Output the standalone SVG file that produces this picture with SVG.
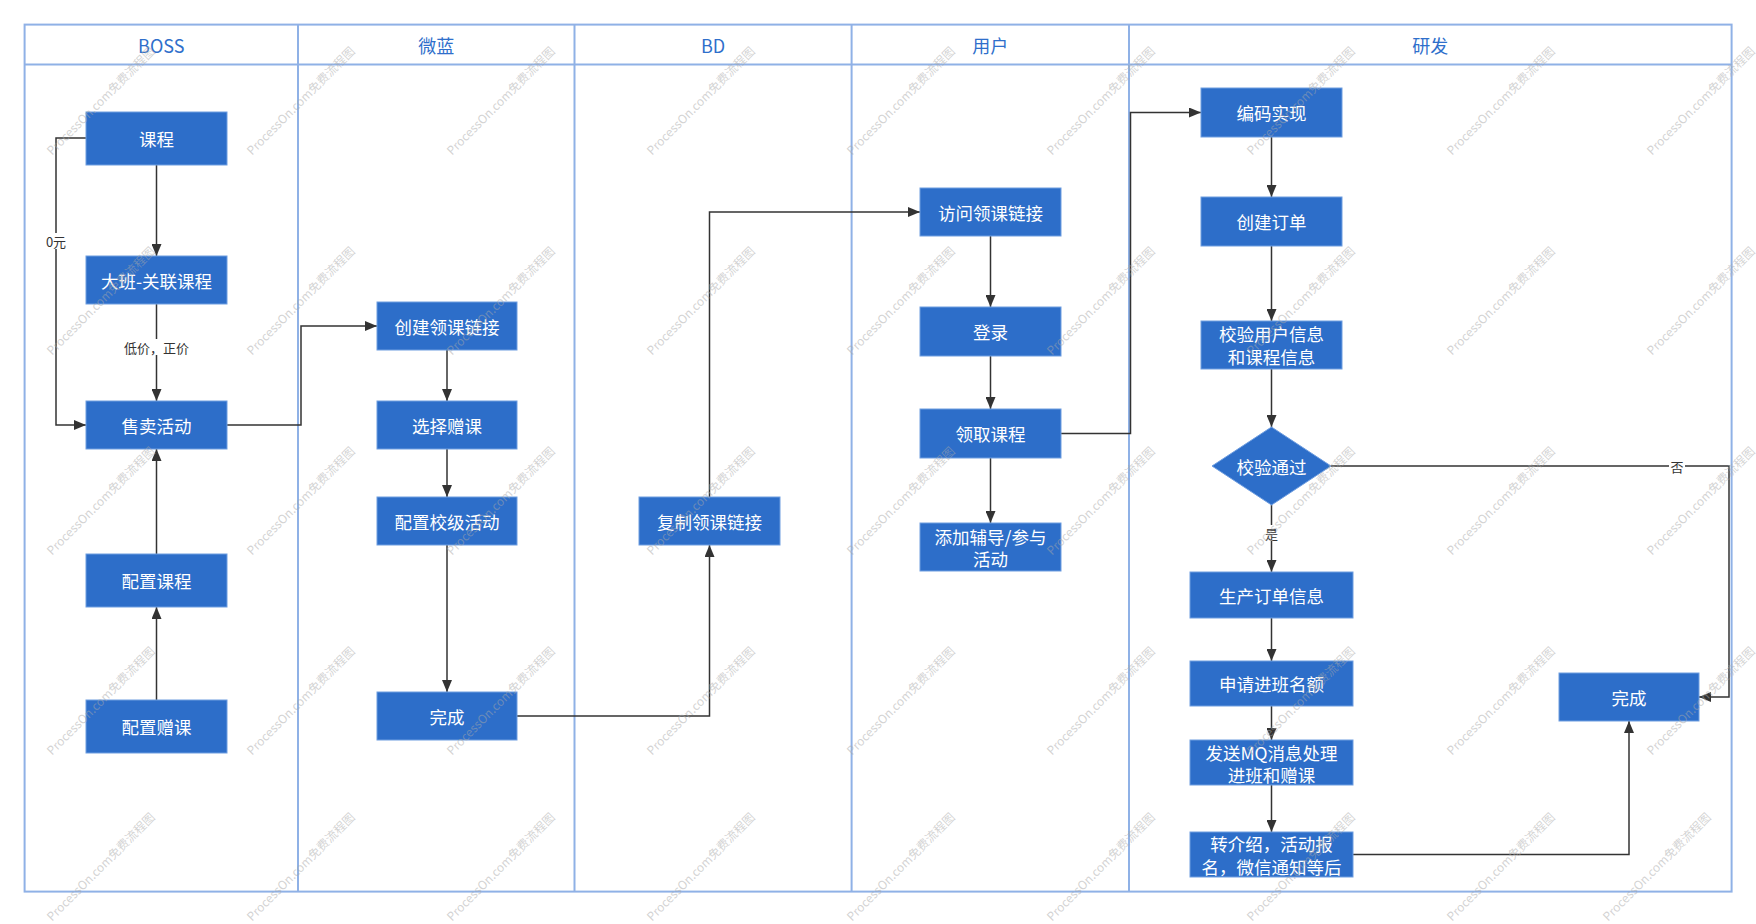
<svg xmlns="http://www.w3.org/2000/svg" width="1756" height="924" viewBox="0 0 1756 924">
<style>
.lane{fill:none;stroke:#8fb1e6;stroke-width:2}
.hd{font-family:"Noto Sans CJK SC","Noto Sans",sans-serif;font-size:18px;fill:#2f6fcb;text-anchor:middle;dominant-baseline:central}
.nd{fill:#2d6ec9;stroke:#6f9ee0;stroke-width:1}
.nt{font-family:"Noto Sans CJK SC","Noto Sans",sans-serif;font-size:17.5px;fill:#ffffff;text-anchor:middle;dominant-baseline:central}
.ln{fill:none;stroke:#333333;stroke-width:1.5}
.lb{font-family:"Noto Sans CJK SC","Noto Sans",sans-serif;font-size:13px;fill:#333333;text-anchor:middle;dominant-baseline:central}
.lbg{fill:#ffffff}
.wm{font-family:"Noto Sans CJK SC","Noto Sans",sans-serif;font-size:12px;fill:#a8a8a8;fill-opacity:0.5;text-anchor:middle;dominant-baseline:central}
</style>
<defs>
<marker id="arr" markerUnits="userSpaceOnUse" markerWidth="12" markerHeight="10" refX="12" refY="5" orient="auto">
<path d="M0,0 L12,5 L0,10 z" fill="#333333"/>
</marker>
</defs>
<rect width="1756" height="924" fill="#ffffff"/>

<g id="swimlanes">
<rect class="lane" x="24.6" y="24.6" width="1707" height="867"/>
<line class="lane" x1="24.6" y1="64.5" x2="1731.6" y2="64.5"/>
<line class="lane" x1="298" y1="24.6" x2="298" y2="891.6"/>
<line class="lane" x1="574.5" y1="24.6" x2="574.5" y2="891.6"/>
<line class="lane" x1="851.6" y1="24.6" x2="851.6" y2="891.6"/>
<line class="lane" x1="1129" y1="24.6" x2="1129" y2="891.6"/>
<text class="hd" x="161.3" y="45">BOSS</text>
<text class="hd" x="436.3" y="45">微蓝</text>
<text class="hd" x="713" y="45">BD</text>
<text class="hd" x="990.3" y="45">用户</text>
<text class="hd" x="1430.3" y="45">研发</text>
</g>

<g id="connectors">
<path class="ln" d="M156.5,165 V256" marker-end="url(#arr)"/>
<path class="ln" d="M86,138 H56 V425 H86" marker-end="url(#arr)"/>
<path class="ln" d="M156.5,304 V401" marker-end="url(#arr)"/>
<path class="ln" d="M156.5,554 V449" marker-end="url(#arr)"/>
<path class="ln" d="M156.5,700 V607" marker-end="url(#arr)"/>
<path class="ln" d="M227,425 H301 V326 H377" marker-end="url(#arr)"/>
<path class="ln" d="M447,350 V401" marker-end="url(#arr)"/>
<path class="ln" d="M447,449 V497" marker-end="url(#arr)"/>
<path class="ln" d="M447,545 V692" marker-end="url(#arr)"/>
<path class="ln" d="M517,716 H709.5 V545" marker-end="url(#arr)"/>
<path class="ln" d="M709.5,497 V212 H920" marker-end="url(#arr)"/>
<path class="ln" d="M990.5,236 V307" marker-end="url(#arr)"/>
<path class="ln" d="M990.5,356 V409" marker-end="url(#arr)"/>
<path class="ln" d="M990.5,458 V523" marker-end="url(#arr)"/>
<path class="ln" d="M1061,433.5 H1130.5 V112.5 H1201" marker-end="url(#arr)"/>
<path class="ln" d="M1271.5,137 V197" marker-end="url(#arr)"/>
<path class="ln" d="M1271.5,246 V321" marker-end="url(#arr)"/>
<path class="ln" d="M1271.5,369 V427" marker-end="url(#arr)"/>
<path class="ln" d="M1271.5,505 V572" marker-end="url(#arr)"/>
<path class="ln" d="M1331,466 H1729 V697 H1699" marker-end="url(#arr)"/>
<path class="ln" d="M1271.5,618 V661" marker-end="url(#arr)"/>
<path class="ln" d="M1271.5,706 V740" marker-end="url(#arr)"/>
<path class="ln" d="M1271.5,785 V832" marker-end="url(#arr)"/>
<path class="ln" d="M1353,854.5 H1629 V721" marker-end="url(#arr)"/>
<rect class="lbg" x="44" y="233" width="24" height="16"/>
<text class="lb" x="56" y="241">0元</text>
<rect class="lbg" x="122" y="339" width="69" height="16"/>
<text class="lb" x="156.5" y="347">低价，正价</text>
<rect class="lbg" x="1264" y="525" width="15" height="16"/>
<text class="lb" x="1271.5" y="533">是</text>
<rect class="lbg" x="1669" y="458" width="16" height="16"/>
<text class="lb" x="1677" y="466">否</text>
</g>

<g id="n-kecheng"><rect class="nd" x="86" y="112" width="141" height="53"/><text class="nt" x="156.5" y="138.5">课程</text></g>
<g id="n-daban"><rect class="nd" x="86" y="256" width="141" height="48"/><text class="nt" x="156.5" y="280">大班-关联课程</text></g>
<g id="n-shoumai"><rect class="nd" x="86" y="401" width="141" height="48"/><text class="nt" x="156.5" y="425">售卖活动</text></g>
<g id="n-peizhikecheng"><rect class="nd" x="86" y="554" width="141" height="53"/><text class="nt" x="156.5" y="580.5">配置课程</text></g>
<g id="n-peizhizengke"><rect class="nd" x="86" y="700" width="141" height="53"/><text class="nt" x="156.5" y="726.5">配置赠课</text></g>

<g id="n-chuangjianlianjie"><rect class="nd" x="377" y="302" width="140" height="48"/><text class="nt" x="447" y="326">创建领课链接</text></g>
<g id="n-xuanze"><rect class="nd" x="377" y="401" width="140" height="48"/><text class="nt" x="447" y="425">选择赠课</text></g>
<g id="n-xiaoji"><rect class="nd" x="377" y="497" width="140" height="48"/><text class="nt" x="447" y="521">配置校级活动</text></g>
<g id="n-wancheng1"><rect class="nd" x="377" y="692" width="140" height="48"/><text class="nt" x="447" y="716">完成</text></g>

<g id="n-fuzhi"><rect class="nd" x="639" y="497" width="141" height="48"/><text class="nt" x="709.5" y="521">复制领课链接</text></g>

<g id="n-fangwen"><rect class="nd" x="920" y="188" width="141" height="48"/><text class="nt" x="990.5" y="212">访问领课链接</text></g>
<g id="n-denglu"><rect class="nd" x="920" y="307" width="141" height="49"/><text class="nt" x="990.5" y="331.5">登录</text></g>
<g id="n-lingqu"><rect class="nd" x="920" y="409" width="141" height="49"/><text class="nt" x="990.5" y="433.5">领取课程</text></g>
<g id="n-tianjia"><rect class="nd" x="920" y="523" width="141" height="48"/><text class="nt" x="990.5" y="536.5">添加辅导/参与</text><text class="nt" x="990.5" y="558.5">活动</text></g>

<g id="n-bianma"><rect class="nd" x="1201" y="88" width="141" height="49"/><text class="nt" x="1271.5" y="112.5">编码实现</text></g>
<g id="n-dingdan"><rect class="nd" x="1201" y="197" width="141" height="49"/><text class="nt" x="1271.5" y="221.5">创建订单</text></g>
<g id="n-jiaoyanxinxi"><rect class="nd" x="1201" y="321" width="141" height="48"/><text class="nt" x="1271.5" y="333.5">校验用户信息</text><text class="nt" x="1271.5" y="356.5">和课程信息</text></g>
<g id="n-jiaoyantongguo"><polygon class="nd" points="1271.5,427 1331,466 1271.5,505 1212,466"/><text class="nt" x="1271.5" y="466">校验通过</text></g>
<g id="n-shengchan"><rect class="nd" x="1190" y="572" width="163" height="46"/><text class="nt" x="1271.5" y="595">生产订单信息</text></g>
<g id="n-shenqing"><rect class="nd" x="1190" y="661" width="163" height="45"/><text class="nt" x="1271.5" y="683.5">申请进班名额</text></g>
<g id="n-fasong"><rect class="nd" x="1190" y="740" width="163" height="45"/><text class="nt" x="1271.5" y="752.5">发送MQ消息处理</text><text class="nt" x="1271.5" y="774">进班和赠课</text></g>
<g id="n-zhuanjieshao"><rect class="nd" x="1190" y="832" width="163" height="45"/><text class="nt" x="1271.5" y="843.5">转介绍，活动报</text><text class="nt" x="1271.5" y="866">名，微信通知等后</text></g>
<g id="n-wancheng2"><rect class="nd" x="1559" y="673" width="140" height="48"/><text class="nt" x="1629" y="697">完成</text></g>

<g id="watermarks">
<text class="wm" transform="translate(100,100) rotate(-45)">ProcessOn.com免费流程图</text>
<text class="wm" transform="translate(300,100) rotate(-45)">ProcessOn.com免费流程图</text>
<text class="wm" transform="translate(500,100) rotate(-45)">ProcessOn.com免费流程图</text>
<text class="wm" transform="translate(700,100) rotate(-45)">ProcessOn.com免费流程图</text>
<text class="wm" transform="translate(900,100) rotate(-45)">ProcessOn.com免费流程图</text>
<text class="wm" transform="translate(1100,100) rotate(-45)">ProcessOn.com免费流程图</text>
<text class="wm" transform="translate(1300,100) rotate(-45)">ProcessOn.com免费流程图</text>
<text class="wm" transform="translate(1500,100) rotate(-45)">ProcessOn.com免费流程图</text>
<text class="wm" transform="translate(1700,100) rotate(-45)">ProcessOn.com免费流程图</text>
<text class="wm" transform="translate(100,300) rotate(-45)">ProcessOn.com免费流程图</text>
<text class="wm" transform="translate(300,300) rotate(-45)">ProcessOn.com免费流程图</text>
<text class="wm" transform="translate(500,300) rotate(-45)">ProcessOn.com免费流程图</text>
<text class="wm" transform="translate(700,300) rotate(-45)">ProcessOn.com免费流程图</text>
<text class="wm" transform="translate(900,300) rotate(-45)">ProcessOn.com免费流程图</text>
<text class="wm" transform="translate(1100,300) rotate(-45)">ProcessOn.com免费流程图</text>
<text class="wm" transform="translate(1300,300) rotate(-45)">ProcessOn.com免费流程图</text>
<text class="wm" transform="translate(1500,300) rotate(-45)">ProcessOn.com免费流程图</text>
<text class="wm" transform="translate(1700,300) rotate(-45)">ProcessOn.com免费流程图</text>
<text class="wm" transform="translate(100,500) rotate(-45)">ProcessOn.com免费流程图</text>
<text class="wm" transform="translate(300,500) rotate(-45)">ProcessOn.com免费流程图</text>
<text class="wm" transform="translate(500,500) rotate(-45)">ProcessOn.com免费流程图</text>
<text class="wm" transform="translate(700,500) rotate(-45)">ProcessOn.com免费流程图</text>
<text class="wm" transform="translate(900,500) rotate(-45)">ProcessOn.com免费流程图</text>
<text class="wm" transform="translate(1100,500) rotate(-45)">ProcessOn.com免费流程图</text>
<text class="wm" transform="translate(1300,500) rotate(-45)">ProcessOn.com免费流程图</text>
<text class="wm" transform="translate(1500,500) rotate(-45)">ProcessOn.com免费流程图</text>
<text class="wm" transform="translate(1700,500) rotate(-45)">ProcessOn.com免费流程图</text>
<text class="wm" transform="translate(100,700) rotate(-45)">ProcessOn.com免费流程图</text>
<text class="wm" transform="translate(300,700) rotate(-45)">ProcessOn.com免费流程图</text>
<text class="wm" transform="translate(500,700) rotate(-45)">ProcessOn.com免费流程图</text>
<text class="wm" transform="translate(700,700) rotate(-45)">ProcessOn.com免费流程图</text>
<text class="wm" transform="translate(900,700) rotate(-45)">ProcessOn.com免费流程图</text>
<text class="wm" transform="translate(1100,700) rotate(-45)">ProcessOn.com免费流程图</text>
<text class="wm" transform="translate(1300,700) rotate(-45)">ProcessOn.com免费流程图</text>
<text class="wm" transform="translate(1500,700) rotate(-45)">ProcessOn.com免费流程图</text>
<text class="wm" transform="translate(1700,700) rotate(-45)">ProcessOn.com免费流程图</text>
<text class="wm" transform="translate(100,866) rotate(-45)">ProcessOn.com免费流程图</text>
<text class="wm" transform="translate(300,866) rotate(-45)">ProcessOn.com免费流程图</text>
<text class="wm" transform="translate(500,866) rotate(-45)">ProcessOn.com免费流程图</text>
<text class="wm" transform="translate(700,866) rotate(-45)">ProcessOn.com免费流程图</text>
<text class="wm" transform="translate(900,866) rotate(-45)">ProcessOn.com免费流程图</text>
<text class="wm" transform="translate(1100,866) rotate(-45)">ProcessOn.com免费流程图</text>
<text class="wm" transform="translate(1300,866) rotate(-45)">ProcessOn.com免费流程图</text>
<text class="wm" transform="translate(1500,866) rotate(-45)">ProcessOn.com免费流程图</text>
<text class="wm" transform="translate(1656,866) rotate(-45)">ProcessOn.com免费流程图</text>
</g>
</svg>
